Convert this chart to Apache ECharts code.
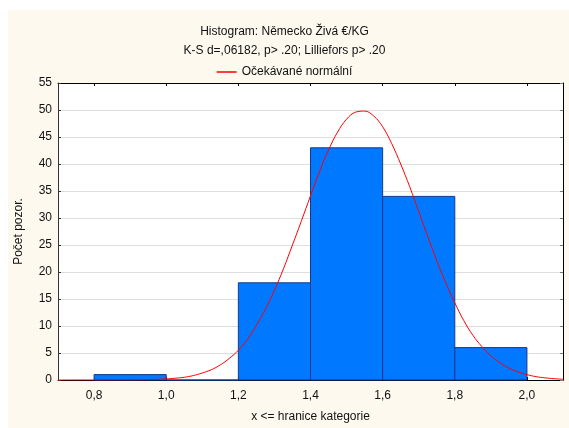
<!DOCTYPE html>
<html>
<head>
<meta charset="utf-8">
<script src="https://cdn.jsdelivr.net/npm/echarts@6.0.0/dist/echarts.min.js"></script>
<style>
  html, body { margin: 0; padding: 0; background: #fff; }
  #chart { width: 569px; height: 428px; }
</style>
</head>
<body>
<div id="chart"></div>
<script>
// bin edges and observed counts
const binStart = [0.8, 1.0, 1.2, 1.4, 1.6, 1.8];
const binEnd = [1.0, 1.2, 1.4, 1.6, 1.8, 2.0];
const counts = [1, 0, 18, 43, 34, 6];

// expected normal curve
const curveX = [0.70, 0.75, 0.80, 0.85, 0.90, 0.95, 1.00, 1.025, 1.05, 1.075, 1.10, 1.125, 1.15, 1.175,
  1.20, 1.225, 1.25, 1.275, 1.30, 1.325, 1.35, 1.375, 1.40, 1.425, 1.45, 1.475, 1.50, 1.525, 1.55,
  1.575, 1.60, 1.625, 1.65, 1.675, 1.70, 1.725, 1.75, 1.775, 1.80, 1.825, 1.85, 1.875, 1.90, 1.925,
  1.95, 1.975, 2.00, 2.025, 2.05, 2.075, 2.10];
const curveY = [0, 0, 0, 0.01, 0.02, 0.07, 0.2, 0.33, 0.5, 0.82, 1.3, 1.9, 2.8, 4.0,
  5.5, 7.5, 10.1, 13.1, 16.6, 20.6, 25.0, 29.5, 34.1, 38.6, 42.6, 45.9, 48.3, 49.6, 49.8,
  48.9, 46.9, 43.8, 40.0, 35.8, 31.2, 26.6, 22.1, 18.0, 14.3, 11.0, 8.3, 6.2, 4.5, 3.2,
  2.2, 1.5, 1.0, 0.62, 0.4, 0.24, 0.14];

const xTicks = [0.8, 1.0, 1.2, 1.4, 1.6, 1.8, 2.0];

const chart = echarts.init(document.getElementById('chart'));
const font = 'Liberation Sans, Arial, sans-serif';

const bars = binStart.map((s, i) => [s, binEnd[i], counts[i]]);
const curve = curveX.map((x, i) => [x, curveY[i]]);

const xAxisBase = {
  type: 'value',
  min: 0.7,
  max: 2.1,
  splitLine: { show: false },
  axisLine: { show: true, onZero: false, lineStyle: { color: '#000', width: 1 } },
  axisTick: { show: true, inside: true, length: 3, customValues: xTicks, lineStyle: { color: '#000' } },
};

const option = {
  backgroundColor: '#fff',
  animation: false,
  graphic: [{
    type: 'rect',
    silent: true,
    z: -10,
    shape: { x: 8, y: 10, width: 561, height: 418 },
    style: { fill: '#fdf9ef' }
  }],
  title: [{
    text: 'Histogram: Německo Živá €/KG',
    left: 'center', top: 21,
    textStyle: { fontFamily: font, fontSize: 12, fontWeight: 'normal', color: '#111' }
  }, {
    text: 'K-S d=,06182, p> .20; Lilliefors p> .20',
    left: 'center', top: 40,
    textStyle: { fontFamily: font, fontSize: 12, fontWeight: 'normal', color: '#111' }
  }],
  legend: {
    top: 61,
    left: 'center',
    icon: 'rect',
    itemWidth: 20,
    itemHeight: 1.5,
    itemGap: 5,
    textStyle: { fontFamily: font, fontSize: 12, color: '#111' },
    data: ['Očekávané normální']
  },
  grid: { left: 58, top: 83, right: 6, bottom: 43, backgroundColor: '#fff', show: true, borderWidth: 0 },
  xAxis: [Object.assign({}, xAxisBase, {
    position: 'bottom',
    name: 'x <= hranice kategorie',
    nameLocation: 'middle',
    nameGap: 31,
    nameTextStyle: { fontFamily: font, fontSize: 12, color: '#111' },
    axisLabel: {
      customValues: xTicks,
      margin: 10,
      fontFamily: font, fontSize: 12, color: '#111',
      formatter: v => v.toFixed(1).replace('.', ',')
    }
  }), Object.assign({}, xAxisBase, {
    position: 'top',
    axisLabel: { show: false }
  })],
  yAxis: [{
    type: 'value',
    min: 0, max: 55, interval: 5,
    name: 'Počet pozor.',
    nameLocation: 'middle',
    nameGap: 33,
    nameTextStyle: { fontFamily: font, fontSize: 12, color: '#111' },
    axisLine: { show: true, lineStyle: { color: '#333' } },
    axisTick: { show: true, inside: true, length: 3, lineStyle: { color: '#333' } },
    axisLabel: { fontFamily: font, fontSize: 12, color: '#111', margin: 6 },
    splitLine: { show: true, lineStyle: { color: '#dedede', width: 1 } }
  }, {
    type: 'value',
    min: 0, max: 55, interval: 5,
    position: 'right',
    axisLine: { show: true, lineStyle: { color: '#000' } },
    axisTick: { show: true, inside: true, length: 3, lineStyle: { color: '#777' } },
    axisLabel: { show: false },
    splitLine: { show: false }
  }],
  series: [{
    name: 'bars',
    type: 'custom',
    xAxisIndex: 0,
    yAxisIndex: 0,
    data: bars,
    encode: { x: [0, 1], y: 2 },
    renderItem: function (params, api) {
      const p0 = api.coord([api.value(0), 0]);
      const p1 = api.coord([api.value(1), api.value(2)]);
      return {
        type: 'rect',
        shape: { x: p0[0], y: p1[1], width: p1[0] - p0[0], height: p0[1] - p1[1] },
        style: { fill: '#0078ff', stroke: '#14388c', lineWidth: 1 }
      };
    },
    z: 2
  }, {
    name: 'Očekávané normální',
    type: 'line',
    xAxisIndex: 0,
    yAxisIndex: 0,
    data: curve,
    smooth: 0.4,
    symbol: 'none',
    lineStyle: { color: '#ff0000', width: 1 },
    itemStyle: { color: '#ff0000' },
    z: 3
  }]
};

chart.setOption(option);
</script>
</body>
</html>
